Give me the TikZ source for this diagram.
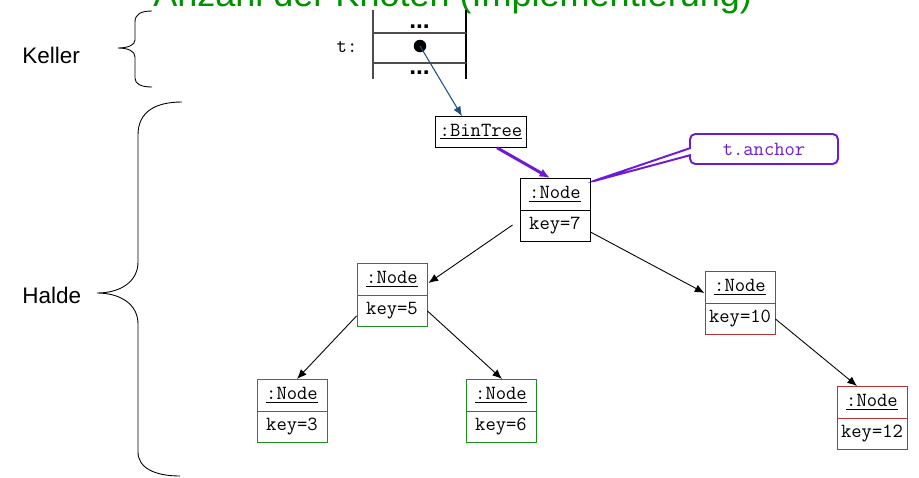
\documentclass[tikz,border=0pt]{standalone}
\usepackage{fontspec}
\setmainfont{Liberation Sans}
\usepackage{tikz}
\usetikzlibrary{arrows.meta,calc,positioning,shapes.multipart,shapes.callouts}

\definecolor{titlegreen}{RGB}{0,145,0}
\definecolor{objgreen}{RGB}{30,140,30}
\definecolor{objred}{RGB}{180,50,50}
\definecolor{anchorviolet}{RGB}{110,25,210}
\definecolor{refblue}{RGB}{30,80,130}

\newcommand{\objfont}{\ttfamily\fontsize{11.4}{12}\selectfont}

\tikzset{
  objbox/.style={draw, rectangle split, rectangle split parts=2, anchor=text split,
    font=\objfont, inner xsep=1.5pt, inner ysep=2.7pt,
    minimum width=1.4cm, line width=0.55pt},
  link/.style={-{Latex[length=5.5pt,width=4.5pt]}, line width=0.5pt},
  frame/.style={draw=black!70, line width=0.8pt},
}

\begin{document}
\begin{tikzpicture}[x=0.02cm,y=-0.02cm]
\useasboundingbox (0,0) rectangle (919,477);
\node[anchor=base west, text=titlegreen, inner sep=0pt,
  font=\fontsize{20.5}{24}\selectfont] (title) at (153,6) {Anzahl der Knoten (Implementierung)};
%----------------------------------
\node[anchor=west, inner sep=0pt, font=\fontsize{12.8}{15}\selectfont] (keller) at (22,55) {Keller};
\node[anchor=west, inner sep=0pt, font=\fontsize{12.8}{15}\selectfont] (halde) at (22,295) {Halde};
\draw[line width=0.5pt] (152,11) .. controls (141,11) and (135,14) .. (135,22) -- (135,40)
  .. controls (135,45) and (128,48) .. (118,48) .. controls (128,48) and (135,51) .. (135,57)
  -- (135,78) .. controls (135,84) and (141,87) .. (152,87);
\draw[line width=0.5pt] (182,102) .. controls (155,102) and (138,112) .. (138,135) -- (138,262)
  .. controls (138,282) and (120,293) .. (97,293) .. controls (120,293) and (138,304) .. (138,324)
  -- (138,452) .. controls (138,468) and (155,476) .. (180,476);
%----------------------------------
% stack frame
\draw[frame] (373,10) -- (373,79);
\draw[draw=black, line width=0.8pt] (466,10) -- (466,79);
\draw[frame] (373,33) -- (466,33) (373,63) -- (466,63);
\node[font=\fontsize{14}{14}\selectfont\bfseries, inner sep=0pt] (dotsup) at (419.5,27) {...};
\node[font=\fontsize{14}{14}\selectfont\bfseries, inner sep=0pt] (dotsdown) at (419.5,73) {...};
\node[font=\objfont] (tlabel) at (347,47) {t:};
\node[circle, fill=black, inner sep=0pt, minimum size=12.5*0.02cm] (tref) at (420,46) {};
%----------------------------------
\node[draw, line width=0.55pt, font=\objfont, inner xsep=2.5pt, inner ysep=2.7pt]
  (tree) at (481,132) {\strut\underline{:BinTree}};
\node[objbox] (k7) at (555,210) {\strut\underline{:Node}\nodepart{two}\strut key=7};
\node[objbox, draw=objgreen] (k5) at (392,295) {\strut\underline{:Node}\nodepart{two}\strut key=5};
\node[objbox, draw=objgreen] (k3) at (292,411) {\strut\underline{:Node}\nodepart{two}\strut key=3};
\node[objbox, draw=objgreen] (k6) at (501,411) {\strut\underline{:Node}\nodepart{two}\strut key=6};
\node[objbox, draw=objred] (k10) at (740,303) {\strut\underline{:Node}\nodepart{two}\strut key=10};
\node[objbox, draw=objred] (k12) at (872,418) {\strut\underline{:Node}\nodepart{two}\strut key=12};
%----------------------------------
\node[rectangle callout, draw=anchorviolet, text=anchorviolet, line width=1.1pt, rounded corners=3pt,
  font=\objfont, minimum width=2.96cm, minimum height=0.6cm,
  callout absolute pointer={($(k7.north east)+(0,4)$)}, callout pointer width=4pt]
  (tanchor) at (764,149) {t.anchor};
%----------------------------------
\draw[-{Latex[length=5.5pt,width=4.5pt]}, refblue, line width=0.6pt] (tref.center) -- ($(tree.north)+(-19,0)$);
\draw[-{Latex[length=6pt,width=5pt]}, anchorviolet, line width=1.7pt] ($(tree.south)+(16,0)$) -- ($(k7.north)+(-5,0)$);
\draw[link] ($(k7.text split west)+(-7,15)$) -- ($(k5.text split east)+(1,-12)$);
\draw[link] ($(k7.text split east)+(0,22)$) -- ($(k10.text split west)+(0,-10)$);
\draw[link] ($(k5.text split west)+(0,21)$) -- ($(k3.north)+(5,0)$);
\draw[link] ($(k5.text split east)+(0,16)$) -- ($(k6.north)+(1,0)$);
\draw[link] ($(k10.text split east)+(0,16)$) -- ($(k12.north)+(-15,0)$);
\end{tikzpicture}
\end{document}
